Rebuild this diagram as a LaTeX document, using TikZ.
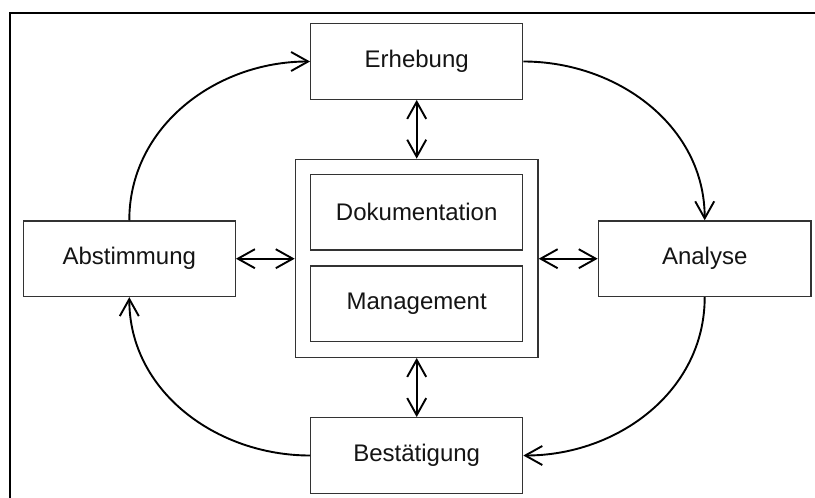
\documentclass[tikz,border=0pt]{standalone}
\usepackage{fontspec}
\setmainfont{Liberation Sans}
\usetikzlibrary{arrows.meta}
\definecolor{boxgray}{HTML}{333333}
\definecolor{txt}{HTML}{141414}
\begin{document}
\begin{tikzpicture}[x=1pt,y=-1pt,
  box/.style={draw=boxgray, line width=1.3pt, fill=white, inner sep=0pt,
    minimum width=212pt, minimum height=75.6pt, text=txt,
    font=\fontsize{24}{28}\selectfont},
  frame/.style={draw=boxgray, line width=1.3pt, fill=white, inner sep=0pt},
  tip/.tip={Straight Barb[length=17pt,width=19pt]},
  flow/.style={line width=1.9pt, -tip},
  link/.style={line width=1.9pt, tip-tip}]
\useasboundingbox (0,0) rectangle (815,498);
\clip (0,0) rectangle (815,498);

% outer frame (open to the right and bottom)
\draw[line width=2.2pt] (10,520) -- (10,12.7) -- (830,12.7);

% central container with its two inner boxes
\node[frame, minimum width=242.7pt, minimum height=198pt] (cont) at (416.7,258.3) {};
\node[box] (dok) at (416.7,212.2) {Dokumentation};
\node[box] (man) at (416.7,303.8) {Management};

% process steps
\node[box] (erh) at (416.7,61.5) {Erhebung};
\node[box] (abs) at (129.3,258.7) {Abstimmung};
\node[box, minimum width=212.7pt] (ana) at (704.7,258.7) {Analyse};
\node[box] (bes) at (416.7,455.5) {Bestätigung};

% cycle
\draw[flow] (abs.north) to[out=90,in=180] (erh.west);
\draw[flow] (erh.east) to[out=0,in=90] (ana.north);
\draw[flow] (ana.south) to[out=-90,in=0] (bes.east);
\draw[flow] (bes.west) to[out=180,in=-90] (abs.south);

% links to the centre
\draw[link] (erh.south) -- (cont.north);
\draw[link] (cont.south) -- (bes.north);
\draw[link] (abs.east) -- (abs.east -| cont.west);
\draw[link] (ana.west -| cont.east) -- (ana.west);
\end{tikzpicture}
\end{document}
